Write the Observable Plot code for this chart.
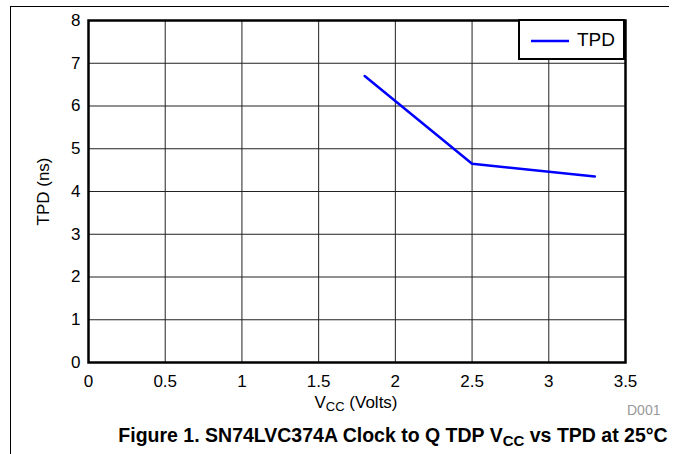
<!DOCTYPE html>
<html><head><meta charset="utf-8">
<script src="https://cdn.jsdelivr.net/npm/d3@7"></script>
<script src="https://cdn.jsdelivr.net/npm/@observablehq/plot@0.6"></script>
<style>
body{margin:0;background:#fff;font-family:"Liberation Sans",Arial,sans-serif;}
#wrap{position:relative;width:675px;height:454px;overflow:hidden;}
#border{position:absolute;left:10px;top:6px;width:658px;height:460px;border-top:1.5px solid #000;border-left:1.5px solid #000;}
#chart{position:absolute;left:0;top:0;}
#chart svg text{font-size:17px !important;font-weight:normal !important;fill:#000;}
.abs{position:absolute;white-space:nowrap;}
</style></head><body>
<div id="wrap"><div id="border"></div><div id="chart"></div>
<div class="abs" id="legend" style="left:518px;top:19px;width:103px;height:37px;border:2px solid #000;background:#fff;">
<svg width="50" height="37" style="position:absolute;left:9px;top:0"><line x1="2" y1="20" x2="40" y2="20" stroke="#0000ff" stroke-width="2.5"/></svg>
<span id="legtxt" class="abs" style="left:57px;top:8px;font-size:19px;"></span></div>
<div class="abs" id="xlabel" style="left:0;width:712px;text-align:center;top:393px;font-size:17px;"></div>
<div class="abs" id="code" style="left:627px;top:402px;font-size:14px;color:#999;"></div>
<div class="abs" id="caption" style="left:0;width:786px;text-align:center;top:424px;font-size:19.5px;font-weight:bold;"></div>
</div>
<script>
const vcc = [1.8, 2.5, 3.3];
const tpd = [6.7, 4.65, 4.35];
const xTicks = [0, 0.5, 1, 1.5, 2, 2.5, 3, 3.5];
const yTicks = [0, 1, 2, 3, 4, 5, 6, 7, 8];
const seriesName = "TPD";
const yLabel = "TPD (ns)";
const xLabelHtml = "V<sub style='font-size:13px;vertical-align:-3px'>CC</sub> (Volts)";
const codeText = "D001";
const captionHtml = "Figure 1. SN74LVC374A Clock to Q TDP V<sub style='font-size:15px;vertical-align:-4px'>CC</sub> vs TPD at 25°C";

const data = vcc.map((v, i) => ({vcc: v, tpd: tpd[i]}));

const chart = Plot.plot({
  width: 675, height: 400,
  marginTop: 20, marginLeft: 88, marginRight: 50, marginBottom: 38,
  style: {fontFamily: "'Liberation Sans', Arial, sans-serif", fontSize: "17px", color: "#000", background: "transparent"},
  x: {domain: [0, 3.5]},
  y: {domain: [0, 8]},
  marks: [
    Plot.gridX(xTicks, {stroke: "#222", strokeOpacity: 1, strokeWidth: 1}),
    Plot.gridY(yTicks, {stroke: "#222", strokeOpacity: 1, strokeWidth: 1}),
    Plot.axisX(xTicks, {tickSize: 0, tickPadding: 12, label: null, tickFormat: d => String(d)}),
    Plot.axisY(yTicks, {tickSize: 0, tickPadding: 8, label: yLabel, labelAnchor: "center", labelArrow: "none", labelOffset: 52, tickFormat: d => String(d)}),
    Plot.line(data, {x: "vcc", y: "tpd", stroke: "#0000ff", strokeWidth: 2.5}),
    Plot.frame({stroke: "#000", strokeWidth: 2.5})
  ]
});
document.getElementById("chart").appendChild(chart);
document.getElementById("legtxt").textContent = seriesName;
document.getElementById("xlabel").innerHTML = xLabelHtml;
document.getElementById("code").textContent = codeText;
document.getElementById("caption").innerHTML = captionHtml;
</script></body></html>
